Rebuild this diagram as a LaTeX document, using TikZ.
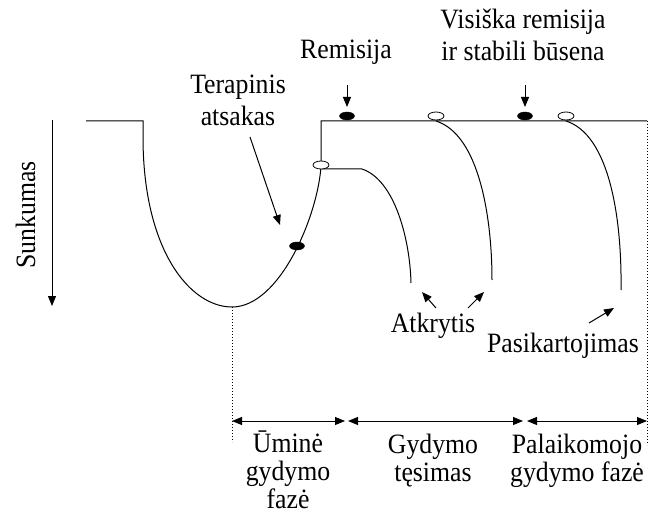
\documentclass[tikz,border=0pt]{standalone}
\usepackage{fontspec}
\setmainfont{Liberation Serif}[FakeStretch=0.92]
\usetikzlibrary{arrows.meta,shapes.geometric}
\begin{document}
\begin{tikzpicture}[x=1pt,y=-1pt,
  every node/.style={font=\fontsize{28}{32}\selectfont, inner sep=0pt},
  curve/.style={line width=1pt},
  fdot/.style={ellipse,draw=black,fill=black,minimum width=15pt,minimum height=8pt,inner sep=0pt},
  odot/.style={ellipse,draw=black,fill=white,line width=0.8pt,minimum width=16pt,minimum height=8pt,inner sep=0pt},
  lbl/.style={align=center},
  phase/.style={align=center,font=\fontsize{28}{28}\selectfont},
  pointer/.style={line width=1pt,-{Triangle[length=10pt,width=8pt]}},
  dimline/.style={line width=1pt,{Triangle[length=10pt,width=8pt]}-{Triangle[length=10pt,width=8pt]}},
  guide/.style={dotted,line width=1pt}
]
\useasboundingbox (0,0) rectangle (656,516);

% main course
\coordinate (L0) at (86,121);
\coordinate (L1) at (143,121);
\coordinate (L2) at (143,137);
\coordinate (B) at (232,307);
\coordinate (R0) at (321,166);
\coordinate (R1) at (321,121);
\coordinate (E) at (647,121);
\draw[curve] (L0) -- (L1) -- (L2) .. controls (143,250) and (190,307) .. (B)
  .. controls (280,307) and (318,215) .. (R0) -- (R1) -- (E);

% relapse branches
\coordinate (C0) at (322,169);
\coordinate (C1) at (362,169);
\coordinate (C2) at (411,283);
\draw[curve] (C0) -- (C1) .. controls (395,180) and (410,240) .. (C2);
\coordinate (D1) at (436,121);
\coordinate (D2) at (492,280);
\draw[curve] (D1) .. controls (480,135) and (492,220) .. (D2);
\coordinate (F1) at (566,121);
\coordinate (F2) at (621,290);
\draw[curve] (F1) .. controls (610,135) and (622,220) .. (F2);

% markers
\node[fdot] (m1) at (347,116) {};
\node[odot] (m2) at (436,116) {};
\node[fdot] (m3) at (525,116) {};
\node[odot] (m4) at (566,116) {};
\node[fdot] (m5) at (297,246) {};
\node[odot] (m6) at (321,165) {};

% axis
\coordinate (ax0) at (52,120);
\coordinate (ax1) at (52,306);
\draw[pointer] (ax0) -- (ax1);
\node[rotate=90,anchor=base] (sunk) at (35,215) {Sunkumas};

% top labels
\node[anchor=base] (rem) at (346,59) {Remisija};
\coordinate (ra0) at (347,85);
\coordinate (ra1) at (347,107);
\draw[pointer] (ra0) -- (ra1);
\node[lbl] (vis) at (523,35) {Visiška remisija\\ir stabili būsena};
\coordinate (va0) at (525,85);
\coordinate (va1) at (525,107);
\draw[pointer] (va0) -- (va1);
\node[lbl] (ter) at (238,100) {Terapinis\\atsakas};
\coordinate (ta0) at (250,137);
\coordinate (ta1) at (280,225);
\draw[pointer] (ta0) -- (ta1);

% lower labels
\node[anchor=base] (atk) at (433,332) {Atkrytis};
\coordinate (ka0) at (436,308);
\coordinate (ka1) at (422,292);
\draw[pointer] (ka0) -- (ka1);
\coordinate (kb0) at (468,308);
\coordinate (kb1) at (484,292);
\draw[pointer] (kb0) -- (kb1);
\node[anchor=base] (pas) at (563,352) {Pasikartojimas};
\coordinate (pa0) at (589,323);
\coordinate (pa1) at (614,308);
\draw[pointer] (pa0) -- (pa1);

% phase guides
\coordinate (g0) at (232,442);
\coordinate (g1) at (647,445);
\draw[guide] (B) -- (g0);
\draw[guide] (E) -- (g1);
\coordinate (d0) at (232,421);
\coordinate (d1) at (345,421);
\coordinate (d2) at (348,421);
\coordinate (d3) at (523,421);
\coordinate (d4) at (527,421);
\coordinate (d5) at (647,421);
\draw[dimline] (d0) -- (d1);
\draw[dimline] (d2) -- (d3);
\draw[dimline] (d4) -- (d5);

\node[phase] (p1) at (288,470) {Ūminė\\gydymo\\fazė};
\node[phase] (p2) at (433,461) {Gydymo\\tęsimas};
\node[phase] (p3) at (577,461) {Palaikomojo\\gydymo fazė};
\end{tikzpicture}
\end{document}
